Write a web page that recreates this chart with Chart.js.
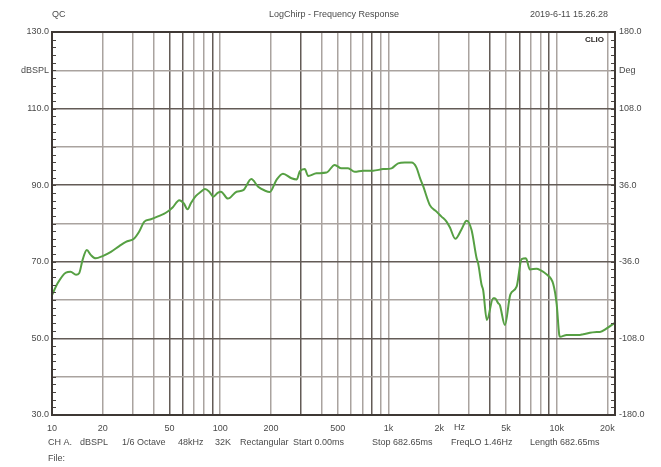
<!DOCTYPE html>
<html>
<head>
<meta charset="utf-8">
<script src="https://cdn.jsdelivr.net/npm/chart.js@4.4.1/dist/chart.umd.min.js"></script>
<style>
  html, body { margin: 0; padding: 0; background: #fff; }
  canvas { display: block; }
</style>
</head>
<body>
<canvas id="fr" width="661" height="467"></canvas>
<script>
// frequency response (Hz / dBSPL)
const freqHz = [10, 10.8, 12.1, 12.9, 13.9, 14.5, 15.2, 16.1, 17.0, 18.2, 20.0, 22.4, 25.1, 27.5, 30.8, 33.0, 35.4, 38.7, 43.4, 47.5,
  52.1, 57.1, 60.6, 64.0, 66.9, 71.7, 76.8, 81.1, 86.1, 91.0, 96.5, 101, 111, 125, 137, 153, 168, 184, 197, 216,
  236, 265, 285, 297, 318, 333, 373, 428, 479, 525, 575, 630, 706, 810, 929, 1042, 1141, 1250, 1370, 1467,
  1536, 1606, 1761, 1930, 2067, 2213, 2316, 2497, 2719, 2911, 3117, 3338, 3412, 3575, 3654, 3843, 4191, 4290, 4487, 4592,
  4918, 5304, 5774, 6184, 6559, 6928, 7594, 7945, 8710, 9533, 9987, 10350, 10450, 11460, 11980, 13740, 14380, 17280, 18070, 19810, 22190];
const splDb = [61.3, 64.4, 67.2, 67.4, 66.6, 67.0, 70.5, 73.1, 71.8, 70.9, 71.5, 72.6, 74.1, 75.2, 76.1, 77.9, 80.5, 81.1, 82.0, 82.8,
  84.2, 86.1, 85.3, 83.7, 85.3, 87.2, 88.3, 89.0, 88.3, 87.0, 88.0, 88.3, 86.5, 88.3, 88.7, 91.6, 89.6, 88.6, 88.2, 91.4,
  93.0, 91.8, 91.5, 93.6, 94.2, 92.4, 93.1, 93.3, 95.3, 94.4, 94.4, 93.5, 93.8, 93.8, 94.2, 94.4, 95.7, 95.9, 95.9, 94.6,
  92.0, 89.8, 84.8, 83.1, 81.8, 80.5, 79.0, 76.0, 78.5, 80.7, 78.3, 71.0, 69.6, 64.0, 62.6, 54.8, 60.5, 60.5, 59.2, 58.7,
  53.5, 61.5, 63.5, 70.7, 70.9, 68.0, 68.2, 67.9, 66.7, 64.2, 59.0, 50.9, 50.4, 50.9, 50.9, 50.9, 51.1, 51.7, 51.7, 52.6, 54.1];

const xGrid = [10, 20, 30, 40, 50, 60, 70, 80, 90, 100, 200, 300, 400, 500, 600, 700, 800, 900,
  1000, 2000, 3000, 4000, 5000, 6000, 7000, 8000, 9000, 10000, 20000];
const xLabels = { 10: '10', 20: '20', 50: '50', 100: '100', 200: '200', 500: '500',
  1000: '1k', 2000: '2k', 5000: '5k', 10000: '10k', 20000: '20k' };
const xDark = [50, 60, 90, 300, 800, 4000, 6000, 9000];
const dbTicks = [30, 40, 50, 60, 70, 80, 90, 100, 110, 120, 130];
const degTicks = [-180, -144, -108, -72, -36, 0, 36, 72, 108, 144, 180];

const FONT = 'Liberation Sans, Arial, sans-serif';
const TXT = '#4a4a4a';
const LIGHT = '#aaa39f';
const DARK = '#635b56';

const extras = {
  id: 'extras',
  afterDraw(chart) {
    const ctx = chart.ctx;
    const a = chart.chartArea;
    const y = chart.scales.y;
    ctx.save();
    // minor ticks every 2 dB, inside both borders
    ctx.strokeStyle = '#4a4440';
    ctx.lineWidth = 1;
    for (let v = 30; v <= 130; v += 2) {
      const py = Math.round(y.getPixelForValue(v)) + 0.5;
      ctx.beginPath();
      ctx.moveTo(a.left, py); ctx.lineTo(a.left + 4, py);
      ctx.moveTo(a.right - 4, py); ctx.lineTo(a.right, py);
      ctx.stroke();
    }
    // frame
    ctx.strokeStyle = '#3e3834';
    ctx.lineWidth = 2;
    ctx.strokeRect(a.left, a.top, a.right - a.left, a.bottom - a.top);

    ctx.fillStyle = TXT;
    ctx.font = '9px ' + FONT;
    ctx.textBaseline = 'middle';
    ctx.textAlign = 'left';
    ctx.fillText('QC', 52, 15);
    ctx.textAlign = 'center';
    ctx.fillText('LogChirp - Frequency Response', 334, 15);
    ctx.textAlign = 'right';
    ctx.fillText('2019-6-11 15.26.28', 608, 15);

    ctx.textAlign = 'left';
    ctx.fillText('Hz', 454, 428);

    const footer = [['CH A.', 48], ['dBSPL', 80], ['1/6 Octave', 122], ['48kHz', 178], ['32K', 215],
      ['Rectangular', 240], ['Start 0.00ms', 293], ['Stop 682.65ms', 372], ['FreqLO 1.46Hz', 451], ['Length 682.65ms', 530]];
    footer.forEach(f => ctx.fillText(f[0], f[1], 443));
    ctx.fillText('File:', 48, 459);

    ctx.fillStyle = '#2e2a28';
    ctx.font = 'bold 8px ' + FONT;
    ctx.textAlign = 'right';
    ctx.fillText('CLIO', 604, 40);
    ctx.restore();
  }
};

new Chart(document.getElementById('fr'), {
  type: 'line',
  data: {
    datasets: [{
      data: freqHz.map((f, i) => ({ x: f, y: splDb[i] })),
      borderColor: '#56a043',
      borderWidth: 2,
      pointRadius: 0,
      cubicInterpolationMode: 'monotone',
      yAxisID: 'y'
    }]
  },
  options: {
    responsive: false,
    animation: false,
    layout: { padding: { top: 32, bottom: 0, left: 0, right: 0 } },
    plugins: { legend: { display: false }, tooltip: { enabled: false } },
    scales: {
      x: {
        type: 'logarithmic',
        min: 10,
        max: 22200,
        afterBuildTicks: s => { s.ticks = xGrid.map(v => ({ value: v })); },
        afterFit: s => { s.height = 52; },
        border: { display: false },
        grid: {
          drawTicks: false,
          lineWidth: 1.5,
          color: c => xDark.includes(c.tick.value) ? DARK : LIGHT
        },
        ticks: {
          autoSkip: false,
          maxRotation: 0,
          padding: 8,
          color: TXT,
          font: { family: FONT, size: 9 },
          callback: v => xLabels[v] || ''
        }
      },
      y: {
        position: 'left',
        min: 30,
        max: 130,
        afterBuildTicks: s => { s.ticks = dbTicks.map(v => ({ value: v })); },
        afterFit: s => { s.width = 52; },
        border: { display: false },
        grid: {
          drawTicks: false,
          lineWidth: 1.5,
          color: c => (c.tick.value % 20 === 10) ? DARK : LIGHT
        },
        ticks: {
          padding: 3,
          color: TXT,
          font: { family: FONT, size: 9 },
          callback: v => v === 120 ? 'dBSPL' : (v % 20 === 10 ? v.toFixed(1) : '')
        }
      },
      y2: {
        position: 'right',
        min: -180,
        max: 180,
        afterBuildTicks: s => { s.ticks = degTicks.map(v => ({ value: v })); },
        afterFit: s => { s.width = 46; },
        border: { display: false },
        grid: { display: false, drawTicks: false },
        ticks: {
          padding: 4,
          color: TXT,
          font: { family: FONT, size: 9 },
          callback: v => v === 144 ? 'Deg' : ((v + 180) % 72 === 0 ? v.toFixed(1) : '')
        }
      }
    }
  },
  plugins: [extras]
});
</script>
</body>
</html>
